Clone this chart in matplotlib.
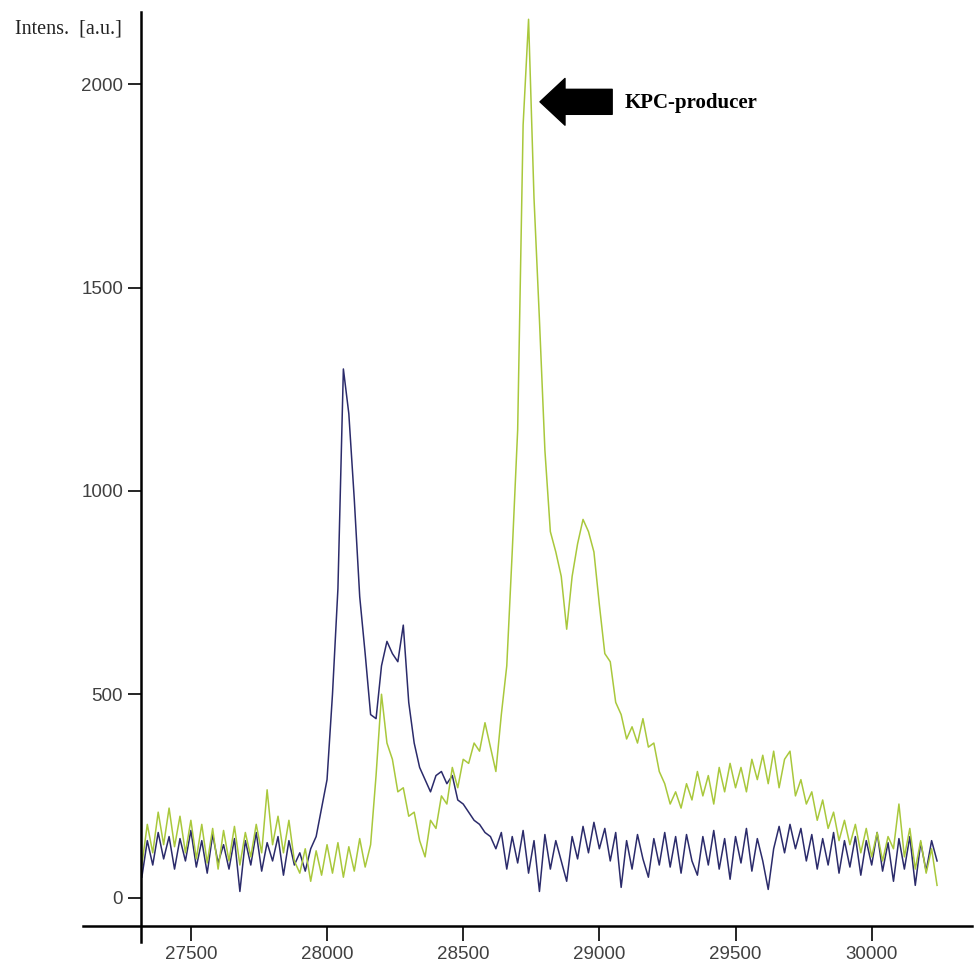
import numpy as np
import matplotlib.pyplot as plt

# m/z grid, one reading every 20 units
mz = np.arange(27320, 30241, 20)

# control strain (dark blue trace)
control = [50, 140, 80, 160, 95, 150, 70, 145, 90, 165,
           75, 140, 60, 155, 85, 130, 70, 145, 15, 140,
           80, 160, 65, 135, 90, 150, 55, 140, 80, 110,
           65, 120, 150, 220, 290, 500, 760, 1300, 1190, 980,
           740, 600, 450, 440, 570, 630, 600, 580, 670, 480,
           380, 320, 290, 260, 300, 310, 280, 300, 240, 230,
           210, 190, 180, 160, 150, 120, 160, 70, 150, 85,
           165, 60, 140, 15, 155, 70, 140, 90, 40, 150,
           95, 175, 110, 185, 120, 170, 90, 160, 25, 140,
           70, 155, 95, 50, 145, 80, 160, 75, 150, 60,
           155, 90, 55, 150, 80, 165, 70, 145, 45, 150,
           85, 170, 65, 145, 90, 20, 120, 175, 110, 180,
           120, 170, 90, 155, 70, 145, 80, 160, 60, 140,
           75, 150, 55, 140, 80, 160, 65, 135, 40, 145,
           70, 150, 30, 135, 65, 140, 90]

# KPC-producer (green trace)
kpc = [80, 180, 110, 210, 130, 220, 125, 200, 110, 190,
       95, 180, 85, 170, 70, 165, 90, 175, 80, 160,
       100, 180, 110, 265, 130, 200, 110, 190, 90, 60,
       120, 40, 115, 55, 130, 60, 135, 50, 125, 65,
       145, 75, 130, 300, 500, 380, 340, 260, 270, 200,
       210, 140, 100, 190, 170, 250, 230, 320, 270, 340,
       330, 380, 360, 430, 370, 310, 450, 570, 850, 1150,
       1900, 2160, 1720, 1420, 1100, 900, 850, 790, 660, 790,
       870, 930, 900, 850, 720, 600, 580, 480, 450, 390,
       420, 380, 440, 370, 380, 310, 280, 230, 260, 220,
       280, 240, 310, 250, 300, 230, 320, 260, 330, 270,
       320, 260, 340, 290, 350, 280, 360, 270, 340, 360,
       250, 290, 230, 260, 190, 240, 170, 210, 140, 190,
       130, 180, 110, 170, 100, 160, 90, 150, 120, 230,
       100, 170, 70, 140, 60, 120, 30]

yticks = [0, 500, 1000, 1500, 2000]
xticks = [27500, 28000, 28500, 29000, 29500, 30000]

fig = plt.figure(figsize=(9.74, 9.65), dpi=100)
ax = fig.add_axes([0.1448, 0.0404, 0.8511, 0.9472])

ax.plot(mz, control, color='#2b2b6b', lw=1.1)
ax.plot(mz, kpc, color='#a9c83c', lw=1.1)

ax.set_xlim(27317, 30361)
ax.set_ylim(-70, 2178)

for s in ax.spines.values():
    s.set_visible(False)
# axis lines crossing like in the original software
ax.plot([-0.07, 1.003], [0, 0], transform=ax.transAxes, color='black', lw=1.8, clip_on=False)
ax.plot([0, 0], [-0.0175, 1.0], transform=ax.transAxes, color='black', lw=1.8, clip_on=False)

ax.set_yticks(yticks)
ax.set_xticks(xticks)
ax.tick_params(axis='y', direction='out', length=9.4, width=1.2, pad=3.5,
               labelsize=13.5, labelcolor='#404040')
ax.tick_params(axis='x', direction='out', length=10.8, width=1.2, pad=3.5,
               labelsize=13.5, labelcolor='#404040')
for lab in ax.get_xticklabels() + ax.get_yticklabels():
    lab.set_family('Liberation Sans')

fig.text(0.015, 1 - 29 / 965, 'Intens.  [a.u.]', family='Liberation Serif',
         fontsize=14.5, va='center', ha='left', color='#222222')

ax.annotate('', xy=(28782, 1957), xytext=(29047, 1957),
            arrowprops=dict(arrowstyle='simple,head_length=0.6,head_width=1.12,tail_width=0.6',
                            mutation_scale=30, color='black', shrinkA=0, shrinkB=0))
fig.text(625 / 974, 1 - 103 / 965, 'KPC-producer', family='Liberation Serif',
         fontweight='bold', fontsize=15, va='center', ha='left')

fig.savefig('out.png', dpi=100)
